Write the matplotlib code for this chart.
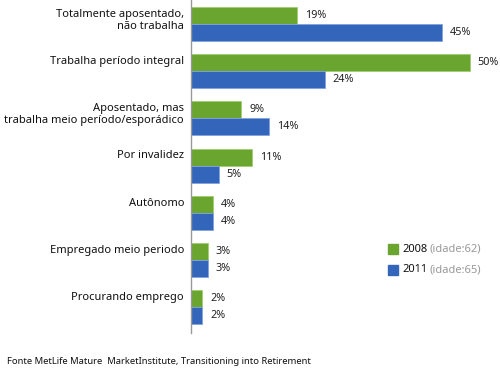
import numpy as np
import matplotlib.pyplot as plt
from matplotlib.patches import Rectangle

categorias = ['Totalmente aposentado,\nnão trabalha',
              'Trabalha período integral',
              'Aposentado, mas\ntrabalha meio período/esporádico',
              'Por invalidez',
              'Autônomo',
              'Empregado meio periodo',
              'Procurando emprego']
v2008 = [19, 50, 9, 11, 4, 3, 2]
v2011 = [45, 24, 14, 5, 4, 3, 2]
anos = ['2008', '2011']
idades = ['(idade:62)', '(idade:65)']

verde = '#6aa530'
azul = '#3366bb'
fonte = 'Noto Sans'

fig = plt.figure(figsize=(5, 3.68), dpi=100)
ax = fig.add_axes([0.382, 0.095, 0.618, 0.905])

y = np.arange(len(categorias))
h = 0.36
ax.barh(y - h/2, v2008, height=h, color=verde, edgecolor='#9fcf6f', linewidth=0.6)
ax.barh(y + h/2, v2011, height=h, color=azul, edgecolor='#7fa2dd', linewidth=0.6)

for i in range(len(categorias)):
    ax.text(v2008[i] + 1.4, y[i] - h/2, f'{v2008[i]}%', va='center', ha='left',
            fontsize=7.8, fontweight='bold', family=fonte, color='#222222')
    ax.text(v2011[i] + 1.4, y[i] + h/2, f'{v2011[i]}%', va='center', ha='left',
            fontsize=7.8, fontweight='bold', family=fonte, color='#222222')
    ax.text(-1.25, y[i] - h + 0.04, categorias[i], va='top', ha='right',
            fontsize=8, family=fonte, color='#111111', linespacing=1.1)

ax.set_xlim(0, 55.4)
ax.set_ylim(6.55, -0.51)
ax.set_xticks([])
ax.set_yticks([])
for s in ['top', 'right', 'bottom']:
    ax.spines[s].set_visible(False)
ax.spines['left'].set_color('#999999')
ax.spines['left'].set_linewidth(1)

# legenda
for k, (cor, ano, idade) in enumerate(zip([verde, azul], anos, idades)):
    yy = 1 - (249 + 21*k) / 368
    fig.patches.append(Rectangle((388/500, yy - 5/368), 10/500, 10/368,
                                 transform=fig.transFigure, color=cor))
    fig.text(402/500, yy, ano, va='center', ha='left', fontsize=8,
             fontweight='bold', family=fonte, color='#111111')
    fig.text(430/500, yy, idade, va='center', ha='left', fontsize=8,
             family=fonte, color='#999999')

fig.text(7/500, 1 - 361/368, 'Fonte MetLife Mature  MarketInstitute, Transitioning into Retirement',
         va='center', ha='left', fontsize=6.8, family=fonte, color='#111111')

fig.savefig('out.png', dpi=100)
